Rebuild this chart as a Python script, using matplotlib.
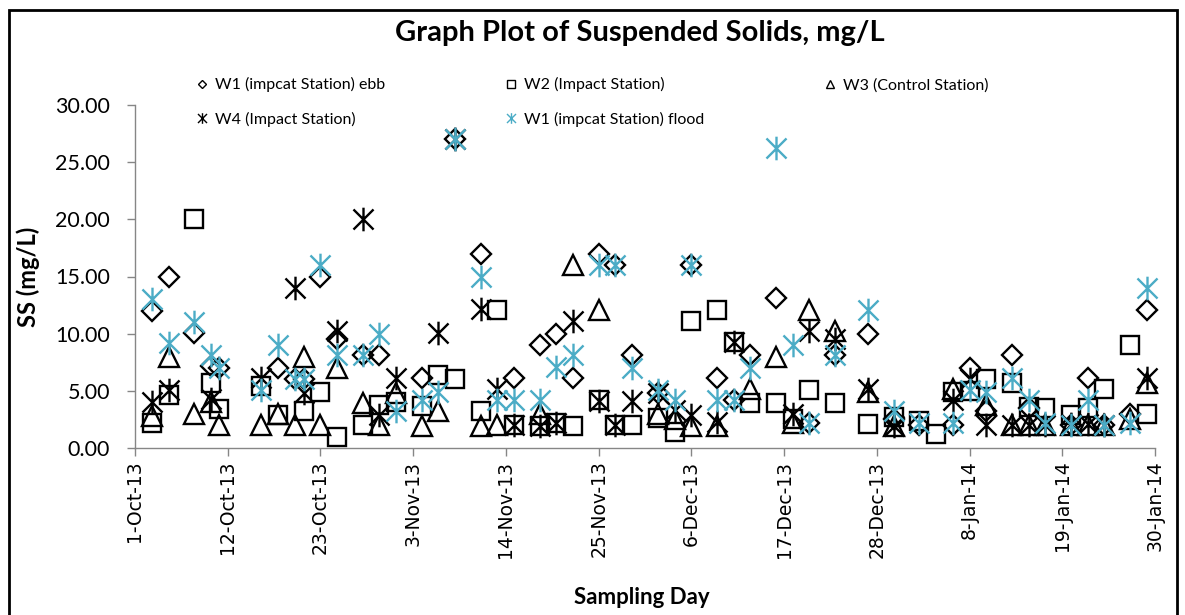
import numpy as np
import matplotlib
matplotlib.use("Agg")
import matplotlib.pyplot as plt
from matplotlib.path import Path
from matplotlib.lines import Line2D
from matplotlib.patches import Rectangle
from matplotlib.ticker import FormatStrFormatter
import datetime as dt

nan = np.nan

# sampling dates
dates = [
    "2013-10-03", "2013-10-05", "2013-10-08", "2013-10-10", "2013-10-11",
    "2013-10-16", "2013-10-18", "2013-10-20", "2013-10-21", "2013-10-23",
    "2013-10-25", "2013-10-28", "2013-10-30", "2013-11-01", "2013-11-04",
    "2013-11-06", "2013-11-08", "2013-11-11", "2013-11-13", "2013-11-15",
    "2013-11-18", "2013-11-20", "2013-11-22", "2013-11-25", "2013-11-27",
    "2013-11-29", "2013-12-02", "2013-12-04", "2013-12-06", "2013-12-09",
    "2013-12-11", "2013-12-13", "2013-12-16", "2013-12-18", "2013-12-20",
    "2013-12-23", "2013-12-27", "2013-12-30", "2014-01-02", "2014-01-04",
    "2014-01-06", "2014-01-08", "2014-01-10", "2014-01-13", "2014-01-15",
    "2014-01-17", "2014-01-20", "2014-01-22", "2014-01-24", "2014-01-27",
    "2014-01-29",
]

w1_ebb = [12, 15, 10.1, 7.2, 7, nan, 7, 6, 6, 15,
          9.5, 8.1, 8.1, nan, 6.1, nan, 27, 17, nan, 6.1,
          9, 10, 6.1, 17, 16, 8.1, 4.8, nan, 16, 6.1,
          4.2, 8.1, 13.1, nan, 2.2, 8.1, 10, 2.5, 2, nan,
          2, 7, 3.2, 8.1, 3.5, nan, 2, 6.1, 2, 3,
          12.1]
w2 = [2.2, 4.6, 20, 5.7, 3.4, 5.4, 2.9, nan, 3.2, 4.9,
      1, 2, 3.8, 4, 3.7, 6.4, 6.0, 3.2, 12.1, 2,
      1.9, 2.2, 1.9, 4.2, 2, 2, 2.6, 1.4, 11.1, 12.1,
      9.3, 3.9, 3.9, 2.5, 5.1, 3.9, 2.1, 2.7, 2.4, 1.2,
      4.9, 5, 6, 5.7, 3.6, 3.5, 2.9, 3.5, 5.2, 9,
      3.0]
w3 = [2.8, 8, 3, 4, 2, 2, 3, 2, 8, 2,
      7, 3.9, 2, 4.8, 1.9, 3.2, nan, 1.9, 2, nan,
      3, nan, 16, 12.1, nan, nan, 3, 2.5, 1.9, 1.9,
      nan, 5.2, 8, 2.2, 12.1, 10.2, 4.9, 1.9, nan, nan,
      5.2, nan, 3.8, 2, 2, 2, 2, 2, 2, 2.5,
      5.7]
w4 = [4, 5.1, nan, 4.3, nan, 6.1, nan, 14, 4.8, nan,
      10.2, 20, 2.9, 6.1, nan, 10.1, 27, 12.2, 5.2, 2,
      1.9, 2.2, 11.1, 4.1, 2, 4.1, 4.8, 3.3, 2.9, 2.3,
      9.3, nan, nan, 3, 10.2, 9.5, 5.2, 1.9, nan, nan,
      4.2, 6, 2, 2, 2, 2, 2.1, 2.1, 2, nan,
      6.1]
w1_flood = [13, 9.2, 11, 8.1, 7, 5.1, 9, 6, 6, 16,
            8.1, 8.1, 10, 3.2, 4.2, 4.9, 27, 15, 4.2, 4.2,
            4.2, 7.1, 8.1, 16, 16, 7, 5.1, 4.2, 16, 4.2,
            4.2, 7, 26.2, 9, 2.2, 8.1, 12.1, 3.2, 2.2, nan,
            2.2, 5.1, 4.9, 6.1, 4.2, 2.2, 2, 4.2, 2, 2.2,
            14]

labels = ["W1 (impcat Station) ebb", "W2 (Impact Station)", "W3 (Control Station)",
          "W4 (Impact Station)", "W1 (impcat Station) flood"]

x = [dt.datetime.strptime(d, "%Y-%m-%d") for d in dates]

# asterisk marker: vertical bar plus X
star = Path([(0, -1), (0, 1), (-0.85, -0.85), (0.85, 0.85), (-0.85, 0.85), (0.85, -0.85)],
            [Path.MOVETO, Path.LINETO, Path.MOVETO, Path.LINETO, Path.MOVETO, Path.LINETO])

blue = "#4BACC6"
styles = [
    dict(marker="D", ms=10, color="black"),
    dict(marker="s", ms=13, color="black"),
    dict(marker="^", ms=14, color="black"),
    dict(marker=star, ms=17, color="black"),
    dict(marker=star, ms=17, color=blue),
]
series = [w1_ebb, w2, w3, w4, w1_flood]

fig = plt.figure(figsize=(11.85, 6.15), dpi=100)
ax = fig.add_axes([135 / 1185, 1 - 448 / 615, (1155 - 135) / 1185, (448 - 105) / 615])

handles = []
for vals, st, lab in zip(series, styles, labels):
    ax.plot(x, np.array(vals, dtype=float), linestyle="none", marker=st["marker"],
            ms=st["ms"], mfc="none", mec=st["color"], mew=1.7, clip_on=False)
    handles.append(Line2D([], [], linestyle="none", marker=st["marker"],
                          ms=st["ms"] * 0.45, mfc="none", mec=st["color"], mew=1.0))

ax.set_xlim(dt.datetime(2013, 10, 1), dt.datetime(2014, 1, 30))
ax.set_ylim(0, 30)
ax.set_yticks(np.arange(0, 31, 5))
ax.yaxis.set_major_formatter(FormatStrFormatter("%.2f"))
ticks = [dt.datetime(2013, 10, 1) + dt.timedelta(days=11 * i) for i in range(12)]
ax.set_xticks(ticks)
ax.set_xticklabels([t.strftime("%-d-%b-%y") for t in ticks], rotation=90,
                   family="DejaVu Sans", fontsize=13.5)
for lab in ax.get_yticklabels():
    lab.set_family("Lato")
    lab.set_fontsize(15.5)

for s in ["top", "right"]:
    ax.spines[s].set_visible(False)
for s in ["left", "bottom"]:
    ax.spines[s].set_color("#868686")
    ax.spines[s].set_linewidth(1.0)
ax.tick_params(direction="out", length=6, color="#868686", width=1.0)
ax.tick_params(axis="y", pad=12)
ax.tick_params(axis="x", pad=3)

ax.set_ylabel("SS (mg/L)", family="Lato", fontweight="bold", fontsize=17)
ax.yaxis.set_label_coords((40 - 135) / 1020, 0.5)
fig.text(642 / 1185, 1 - 597 / 615, "Sampling Day", family="Lato", fontweight="bold",
         fontsize=16, ha="center", va="center")
fig.text(640 / 1185, 1 - 33 / 615, "Graph Plot of Suspended Solids, mg/L", family="Lato",
         fontweight="bold", fontsize=21, ha="center", va="center")

order = [0, 3, 1, 4, 2]
fig.legend([handles[i] for i in order], [labels[i] for i in order], ncol=3,
           loc="upper left", bbox_to_anchor=(189 / 1185, 1 - 71 / 615), frameon=False,
           prop=dict(family="Lato", size=11.5), handlelength=0.8, handletextpad=0.4,
           columnspacing=7.5, labelspacing=1.2, borderaxespad=0)

fig.patches.append(Rectangle((9 / 1185, -0.1), 1168 / 1185, 1.1 - 10 / 615,
                             transform=fig.transFigure, fill=False, edgecolor="black",
                             linewidth=2.0))

fig.savefig("out.png", dpi=100)
